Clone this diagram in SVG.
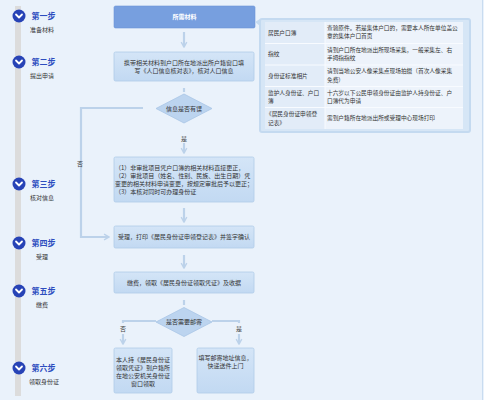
<svg xmlns="http://www.w3.org/2000/svg" width="484" height="400" viewBox="0 0 484 400">
<defs>
<style>
text{font-family:"Noto Sans CJK SC","Liberation Sans",sans-serif;}
.bar{fill:#dcdcdc;}
.dot{fill:#2743b6;}
.chev{fill:none;stroke:#fff;stroke-width:1.8;stroke-linecap:round;stroke-linejoin:round;}
.sl{font-size:8px;fill:#2d4dbf;font-weight:bold;text-anchor:middle;}
.ss{font-size:6px;fill:#333;text-anchor:middle;}
.box{fill:url(#g1);stroke:#b0cbe8;stroke-width:0.8;}
.bt{font-size:6px;fill:#333;}
.c{text-anchor:middle;}
.dia{fill:#bcd4ef;stroke:#a8c5e6;stroke-width:0.8;}
.con{fill:none;stroke:#bcd2ea;stroke-width:2.2;}
.lab{font-size:6px;fill:#444;text-anchor:middle;}
.tt{font-size:5.7px;fill:#333;}
</style>
<linearGradient id="g1" x1="0" y1="0" x2="0" y2="1">
<stop offset="0" stop-color="#d4e5f7"/>
<stop offset="1" stop-color="#c2d9f2"/>
</linearGradient>
<marker id="ah" viewBox="0 0 10 10" refX="8" refY="5" markerWidth="3.2" markerHeight="3.2" orient="auto">
<path d="M1 1 L8 5 L1 9" fill="none" stroke="#bcd2ea" stroke-width="2"/>
</marker>
</defs>
<rect x="0" y="0" width="484" height="400" fill="#eaf2fb"/>
<line x1="482.5" y1="0" x2="482.5" y2="400" stroke="#c9dcf0" stroke-width="1"/>

<g id="timeline">
<rect class="bar" x="15" y="6" width="6" height="390"/>
</g>
<g id="step1"><circle class="dot" cx="19" cy="16" r="6.5"/><path class="chev" d="M16 14.5 L19 17.5 L22 14.5"/><text class="sl" x="43.5" y="19">第一步</text><text class="ss" x="42" y="31.5">准备材料</text></g>
<g id="step2"><circle class="dot" cx="19" cy="62" r="6.5"/><path class="chev" d="M16 60.5 L19 63.5 L22 60.5"/><text class="sl" x="43.5" y="65">第二步</text><text class="ss" x="42" y="77.5">提出申请</text></g>
<g id="step3"><circle class="dot" cx="19" cy="184" r="6.5"/><path class="chev" d="M16 182.5 L19 185.5 L22 182.5"/><text class="sl" x="43.5" y="187">第三步</text><text class="ss" x="42" y="199.5">核对信息</text></g>
<g id="step4"><circle class="dot" cx="19" cy="243" r="6.5"/><path class="chev" d="M16 241.5 L19 244.5 L22 241.5"/><text class="sl" x="43.5" y="246">第四步</text><text class="ss" x="42" y="258.5">受理</text></g>
<g id="step5"><circle class="dot" cx="19" cy="291" r="6.5"/><path class="chev" d="M16 289.5 L19 292.5 L22 289.5"/><text class="sl" x="43.5" y="294">第五步</text><text class="ss" x="42" y="306.5">缴费</text></g>
<g id="step6"><circle class="dot" cx="19" cy="368" r="6.5"/><path class="chev" d="M16 366.5 L19 369.5 L22 366.5"/><text class="sl" x="43.5" y="371">第六步</text><text class="ss" x="44" y="383.5">领取身份证</text></g>

<g id="connectors">
<line class="con" x1="184" y1="32" x2="184" y2="47" marker-end="url(#ah)"/>
<line class="con" x1="184" y1="88" x2="184" y2="92"/>
<path class="con" d="M143 108 H81 V237 H109" marker-end="url(#ah)"/>
<text class="lab" x="80" y="166">否</text>
<text class="lab" x="184" y="141">是</text>
<line class="con" x1="184" y1="143" x2="184" y2="153" marker-end="url(#ah)"/>
<line class="con" x1="184" y1="208" x2="184" y2="222" marker-end="url(#ah)"/>
<line class="con" x1="184" y1="255" x2="184" y2="268" marker-end="url(#ah)"/>
<line class="con" x1="184" y1="300" x2="184" y2="305"/>
<path class="con" d="M156 321 H123 V323"/>
<line class="con" x1="123" y1="334" x2="123" y2="344" marker-end="url(#ah)"/>
<text class="lab" x="123" y="331">否</text>
<path class="con" d="M212 321 H239 V323"/>
<line class="con" x1="239" y1="334" x2="239" y2="344" marker-end="url(#ah)"/>
<text class="lab" x="239" y="331">是</text>
</g>

<g id="n-materials">
<rect x="114" y="6" width="141" height="22" rx="1.5" fill="#779fdf" stroke="#6b95d8" stroke-width="0.6"/>
<text class="bt c" x="184.5" y="19" fill="#fff" style="fill:#fff;font-weight:bold">所需材料</text>
</g>

<g id="n-apply">
<rect class="box" x="114" y="52" width="140" height="29" rx="1.5"/>
<text class="bt c" x="184" y="65">携带相关材料到户口所在地派出所户籍窗口填</text>
<text class="bt c" x="184" y="73">写《人口信息核对表》，核对人口信息</text>
</g>

<g id="n-check">
<polygon class="dia" points="184,94 212,108.5 184,123 156,108.5"/>
<text class="bt c" x="184" y="110.5">信息是否有误</text>
</g>

<g id="n-correct">
<rect class="box" x="114" y="157" width="140" height="45" rx="1.5"/>
<text class="bt" x="115" y="170">（1）非审批项目凭户口簿的相关材料直接更正，</text>
<text class="bt" x="115" y="178">（2）审批项目（姓名、性别、民族、出生日期）凭</text>
<text class="bt" x="115" y="186">变更的相关材料申请变更，按规定审批后予以更正；</text>
<text class="bt" x="115" y="193.5">（3）本核对同时可办理身份证</text>
</g>

<g id="n-accept">
<rect class="box" x="114" y="226" width="140" height="22" rx="1.5"/>
<text class="bt c" x="184" y="239">受理，打印《居民身份证申领登记表》并签字确认</text>
</g>

<g id="n-pay">
<rect class="box" x="114" y="272" width="140" height="21" rx="1.5"/>
<text class="bt c" x="184" y="284.5">缴费，领取《居民身份证领取凭证》及收据</text>
</g>

<g id="n-mail">
<polygon class="dia" points="184,307.5 212,322 184,336.5 156,322"/>
<text class="bt c" x="184" y="324">是否需要邮寄</text>
</g>

<g id="n-self">
<rect class="box" x="114" y="348" width="58" height="45" rx="1.5"/>
<text class="bt c" x="143" y="362">本人持《居民身份证</text>
<text class="bt c" x="143" y="370">领取凭证》到户籍所</text>
<text class="bt c" x="143" y="378">在地公安机关身份证</text>
<text class="bt c" x="143" y="386">窗口领取</text>
</g>

<g id="n-post">
<rect class="box" x="197" y="348" width="57" height="45" rx="1.5"/>
<text class="bt c" x="225.5" y="360">填写邮寄地址信息，</text>
<text class="bt c" x="225.5" y="368">快递送件上门</text>
</g>

<g id="n-table">
<polygon points="255,22 260,19 260,26" fill="#c4daf0"/>
<rect x="260" y="19" width="210" height="113" rx="2" fill="#d6e6f6" stroke="#c4daf0" stroke-width="2"/>
<rect x="265" y="22" width="60" height="107" fill="#e2ecf8"/>
<rect x="325" y="22" width="138" height="107" fill="#edf3fb"/>
<g stroke="#f8fbff" stroke-width="1">
<line x1="265" y1="43.5" x2="463" y2="43.5"/>
<line x1="265" y1="65" x2="463" y2="65"/>
<line x1="265" y1="86.5" x2="463" y2="86.5"/>
<line x1="265" y1="107.5" x2="463" y2="107.5"/>
<line x1="325" y1="22" x2="325" y2="129"/>
</g>
<text class="tt" x="268" y="35">居民户口簿</text>
<text class="tt" x="327" y="30">查验原件。若是集体户口的，需要本人所在单位盖公</text>
<text class="tt" x="327" y="38">章的集体户口首页</text>
<text class="tt" x="268" y="56">指纹</text>
<text class="tt" x="327" y="52">请到户口所在地派出所现场采集，一般采集左、右</text>
<text class="tt" x="327" y="60">手拇指指纹</text>
<text class="tt" x="268" y="78">身份证标准相片</text>
<text class="tt" x="327" y="73">请到当地公安人像采集点现场拍摄（首次人像采集</text>
<text class="tt" x="327" y="82">免费）</text>
<text class="tt" x="268" y="95">监护人身份证、户口</text>
<text class="tt" x="268" y="103">簿</text>
<text class="tt" x="327" y="95">十六岁以下公民申领身份证由监护人持身份证、户</text>
<text class="tt" x="327" y="103">口簿代为申请</text>
<text class="tt" x="266" y="116">《居民身份证申领登</text>
<text class="tt" x="268" y="125">记表》</text>
<text class="tt" x="327" y="120">需到户籍所在地派出所或受理中心现场打印</text>
</g>
</svg>
